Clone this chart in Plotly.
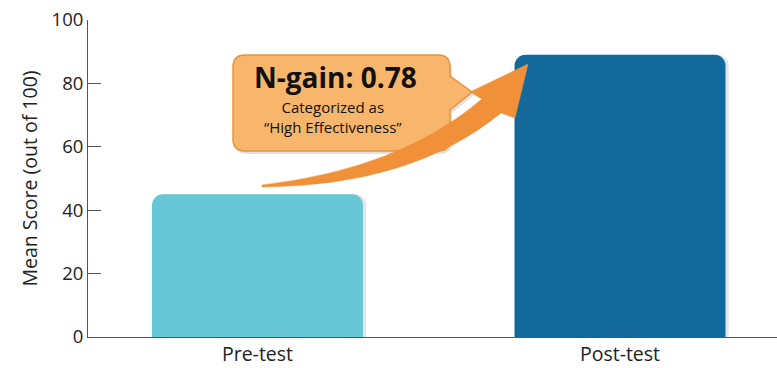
import plotly.graph_objects as go

# ---- data ----
categories = ["Pre-test", "Post-test"]
mean_scores = [45, 89]
bar_colors = ["#67C7D7", "#136A9A"]
y_tick_values = [0, 20, 40, 60, 80, 100]
y_title = "Mean Score (out of 100)"
callout_title = "N-gain: 0.78"
callout_line1 = "Categorized as"
callout_line2 = "\u201cHigh Effectiveness\u201d"

W, H = 777, 368
ML, MR, MT, MB = 88, 0, 20, 31
PW, PH = W - ML - MR, H - MT - MB

def px(x, y):
    """pixel -> paper coords"""
    return (x - ML) / PW, (H - MB - y) / PH

def path(cmds):
    out = []
    for c in cmds:
        if isinstance(c, str):
            out.append(c)
        else:
            X, Y = px(*c)
            out.append(f"{X:.5f},{Y:.5f}")
    return " ".join(out)

xs = list(range(len(categories)))

fig = go.Figure()
# soft shadow
fig.add_trace(go.Bar(
    x=[v + 0.009 for v in xs], y=mean_scores, width=0.582,
    marker=dict(color="rgba(0,0,0,0.10)", line=dict(width=0)),
    hoverinfo="skip", showlegend=False,
))
fig.add_trace(go.Bar(
    x=xs, y=mean_scores, width=0.582,
    marker=dict(color=bar_colors, line=dict(width=0)),
    showlegend=False,
))

shapes = []
# callout shadow + box with pointer
def callout(dx=0, dy=0):
    x0, y0, x1, y1, r = 233 + dx, 55 + dy, 450 + dx, 151 + dy, 12
    return path([
        "M", (x0 + r, y0), "L", (x1 - r, y0), "Q", (x1, y0), (x1, y0 + r),
        "L", (x1, 76 + dy), "L", (472 + dx, 92 + dy), "L", (x1, 110 + dy),
        "L", (x1, y1 - r), "Q", (x1, y1), (x1 - r, y1),
        "L", (x0 + r, y1), "Q", (x0, y1), (x0, y1 - r),
        "L", (x0, y0 + r), "Q", (x0, y0), (x0 + r, y0), "Z",
    ])

shapes.append(dict(type="path", xref="paper", yref="paper", path=callout(2, 3),
                   fillcolor="rgba(0,0,0,0.12)", line=dict(width=0), layer="above"))
shapes.append(dict(type="path", xref="paper", yref="paper", path=callout(),
                   fillcolor="#F8B66C", line=dict(color="#E8923C", width=1.5), layer="above"))

# curved arrow
arrow = path([
    "M", (262, 185), "Q", (400, 169), (482, 99),
    "L", (470, 92), "L", (528, 64), "L", (515, 118), "L", (501, 113),
    "Q", (412, 186), (262, 187), "Z",
])
shapes.append(dict(type="path", xref="paper", yref="paper", path=arrow,
                   fillcolor="#F09038", line=dict(color="#F09038", width=0.5), layer="above"))

annotations = []
def add_text(text, cx, cy, size, bold=False):
    X, Y = px(cx, cy)
    annotations.append(dict(
        x=X, y=Y, xref="paper", yref="paper", showarrow=False,
        text=f"<b>{text}</b>" if bold else text,
        font=dict(family="Open Sans", size=size, color="#111111"),
        xanchor="center", yanchor="middle", align="center",
    ))

add_text(callout_title, 335, 77, 28, bold=True)
add_text(f"{callout_line1}<br>{callout_line2}", 333, 116.5, 15)

fig.update_layout(
    width=W, height=H,
    margin=dict(l=ML, r=MR, t=MT, b=MB),
    paper_bgcolor="white", plot_bgcolor="white",
    barmode="overlay", barcornerradius=11,
    shapes=shapes, annotations=annotations,
    font=dict(family="Open Sans", color="#222222"),
    xaxis=dict(
        range=[(ML - 257.5) / 362.5, (W - MR - 257.5) / 362.5],
        tickvals=xs, ticktext=categories, showgrid=False, zeroline=False,
        showline=True, linecolor="#555555", linewidth=1,
        ticks="", tickfont=dict(size=19.5, color="#222222"),
    ),
    yaxis=dict(
        range=[0, 100], tickvals=y_tick_values, showgrid=False, zeroline=False,
        showline=True, linecolor="#555555", linewidth=1,
        ticks="inside", ticklen=13, tickcolor="#555555",
        tickfont=dict(size=18.5, color="#222222"),
        title=dict(text=y_title, font=dict(size=19.5, color="#222222"), standoff=8),
    ),
)

fig.write_html("out.html")
